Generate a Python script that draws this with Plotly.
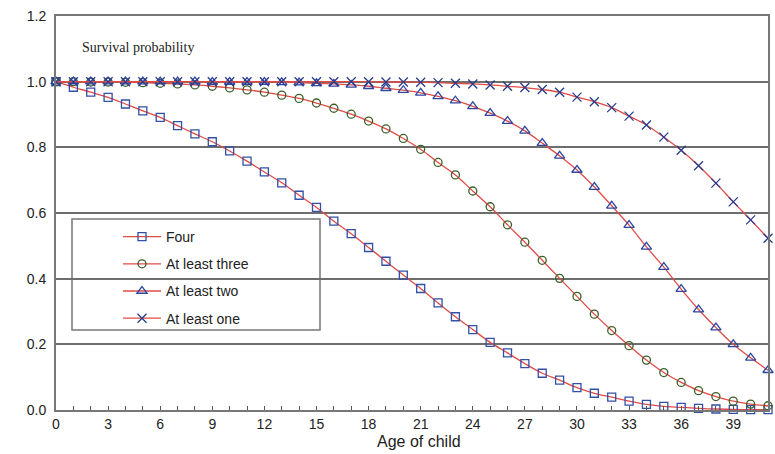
import plotly.graph_objects as go

age = list(range(0, 42))

four = [1.000, 0.983, 0.968, 0.952, 0.932, 0.911, 0.891, 0.866, 0.841, 0.817,
        0.789, 0.758, 0.725, 0.692, 0.654, 0.617, 0.575, 0.537, 0.495, 0.453,
        0.411, 0.370, 0.326, 0.284, 0.245, 0.206, 0.174, 0.141, 0.112, 0.091,
        0.068, 0.051, 0.039, 0.027, 0.017, 0.011, 0.008, 0.005, 0.003, 0.002,
        0.001, 0.001]

at_least_three = [1.000, 1.000, 0.999, 0.999, 0.998, 0.997, 0.995, 0.993, 0.990, 0.986,
                  0.981, 0.975, 0.968, 0.959, 0.949, 0.935, 0.919, 0.901, 0.880, 0.856,
                  0.827, 0.794, 0.754, 0.716, 0.667, 0.619, 0.564, 0.511, 0.456, 0.401,
                  0.346, 0.292, 0.242, 0.196, 0.152, 0.114, 0.084, 0.059, 0.041, 0.027,
                  0.018, 0.013]

at_least_two = [1.000, 1.000, 1.000, 1.000, 1.000, 1.000, 1.000, 1.000, 1.000, 0.999,
                0.999, 0.999, 0.999, 0.998, 0.997, 0.995, 0.993, 0.990, 0.986, 0.980,
                0.974, 0.966, 0.955, 0.942, 0.925, 0.904, 0.880, 0.850, 0.813, 0.774,
                0.731, 0.679, 0.622, 0.563, 0.497, 0.435, 0.368, 0.306, 0.251, 0.200,
                0.159, 0.121]

at_least_one = [1.000, 1.000, 1.000, 1.000, 1.000, 1.000, 1.000, 1.000, 1.000, 1.000,
                1.000, 1.000, 1.000, 1.000, 1.000, 1.000, 1.000, 1.000, 1.000, 0.999,
                0.999, 0.998, 0.997, 0.995, 0.993, 0.990, 0.986, 0.982, 0.976, 0.968,
                0.953, 0.939, 0.921, 0.895, 0.868, 0.831, 0.791, 0.744, 0.691, 0.634,
                0.579, 0.523]

series_names = ["Four", "At least three", "At least two", "At least one"]
x_tick_vals = list(range(0, 42, 3))
y_tick_vals = [0.0, 0.2, 0.4, 0.6, 0.8, 1.0, 1.2]

LINE = "rgb(225,75,70)"
FONT = "Liberation Sans, Arial, sans-serif"

L, R, T, B = 56, 7, 16, 44
PW = 775 - L - R
PH = 454 - T - B

styles = [
    dict(symbol="square-open", color="rgb(50,80,165)", size=8),
    dict(symbol="circle-open", color="rgb(60,95,40)", size=8),
    dict(symbol="triangle-up-open", color="rgb(45,70,160)", size=9),
    dict(symbol="x-thin-open", color="rgb(40,60,140)", size=9),
]

fig = go.Figure()
for i, (name, ys) in enumerate(zip(series_names, [four, at_least_three, at_least_two, at_least_one])):
    st = styles[i]
    fig.add_trace(go.Scatter(
        x=age, y=ys, name=name, mode="lines+markers",
        legendgroup=name, cliponaxis=False,
        line=dict(color=LINE, width=1.3, shape="spline"),
        marker=dict(symbol=st["symbol"], size=st["size"], color=st["color"],
                    line=dict(color=st["color"], width=1.3)),
    ))

def px_x(p):
    return (p - L) / PW

def px_y(p):
    return (454 - B - p) / PH

# legend frame
fig.add_shape(type="rect", xref="paper", yref="paper",
              x0=px_x(72), x1=px_x(320), y0=px_y(330), y1=px_y(219),
              line=dict(color="#777777", width=1.5), fillcolor="white", layer="below")

fig.add_annotation(text="Survival probability", x=1.4, y=1.103, xref="x", yref="y",
                   xanchor="left", yanchor="middle", showarrow=False,
                   font=dict(family="Liberation Serif, Times New Roman, serif", size=14, color="#222"))

fig.add_annotation(text="Age of child", x=0.51, y=px_y(441), xref="paper", yref="paper",
                   xanchor="center", yanchor="middle", showarrow=False,
                   font=dict(family=FONT, size=16, color="#222"))

fig.update_layout(
    width=775, height=454,
    margin=dict(l=L, r=R, t=T, b=B, autoexpand=False),
    paper_bgcolor="white", plot_bgcolor="white",
    font=dict(family=FONT, size=14, color="#222"),
    showlegend=True,
    legend=dict(x=px_x(118), y=px_y(221), xanchor="left", yanchor="top",
                bgcolor="rgba(0,0,0,0)", borderwidth=0, tracegroupgap=6,
                font=dict(family=FONT, size=14, color="#222"), itemwidth=38),
    xaxis=dict(range=[0, 41], tickvals=x_tick_vals, ticks="inside", ticklen=4,
               tickcolor="#555", tickwidth=1,
               minor=dict(dtick=1, ticks="inside", ticklen=4, tickcolor="#555", tickwidth=1),
               showgrid=False, zeroline=False, showline=True, linecolor="#777",
               linewidth=2, mirror=True, automargin=False,
               tickfont=dict(size=14)),
    yaxis=dict(range=[0, 1.2], tickvals=y_tick_vals, tickformat=".1f", ticks="",
               showgrid=True, gridcolor="#6e6e6e", gridwidth=1.5, zeroline=False,
               showline=True, linecolor="#777", linewidth=2, mirror=True,
               automargin=False, ticklabelstandoff=5, tickfont=dict(size=14)),
)

fig.write_html("out.html", config={"displayModeBar": False},
               post_script="document.body.style.margin='0';")
